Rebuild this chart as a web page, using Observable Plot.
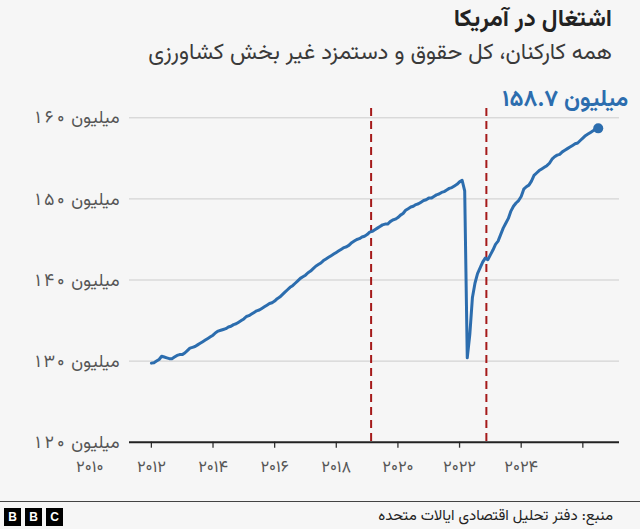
<!DOCTYPE html>
<html lang="fa">
<head>
<meta charset="utf-8">
<script src="https://cdn.jsdelivr.net/npm/d3@7"></script>
<script src="https://cdn.jsdelivr.net/npm/@observablehq/plot@0.6"></script>
<style>
  html, body { margin: 0; padding: 0; }
  body {
    width: 640px; height: 529px; position: relative; overflow: hidden;
    background: #f6f6f6;
    font-family: Vazirmatn, "Noto Sans Arabic", "DejaVu Sans", sans-serif;
  }
  .title { position: absolute; right: 28px; top: 4px; font-size: 24px; line-height: 32px; font-weight: bold; color: #222; direction: rtl; white-space: nowrap; }
  .subtitle { position: absolute; right: 28px; top: 41px; font-size: 22.5px; line-height: 26px; color: #3a3a3a; direction: rtl; white-space: nowrap; }
  #chart { position: absolute; left: 0; top: 80px; }
  .rule { position: absolute; left: 0; top: 501px; width: 640px; height: 0; border-top: 1.5px solid #444; }
  .source { position: absolute; right: 27px; top: 508px; font-size: 15px; line-height: 18px; color: #222; direction: rtl; white-space: nowrap; }
  .bbc { position: absolute; left: 4px; top: 508px; display: flex; gap: 4px; }
  .bbc span { width: 17px; height: 18px; background: #000; color: #fff; font: bold 12px "Liberation Sans", Arial, sans-serif; display: flex; align-items: center; justify-content: center; }
</style>
</head>
<body>
<div class="title">اشتغال در آمریکا</div>
<div class="subtitle">همه کارکنان، کل حقوق و دستمزد غیر بخش کشاورزی</div>
<div id="chart"></div>
<div class="rule"></div>
<div class="source">منبع: دفتر تحلیل اقتصادی ایالات متحده</div>
<div class="bbc"><span>B</span><span>B</span><span>C</span></div>
<script>
// Monthly total nonfarm employment, millions (Jan..Dec)
const jobs2010 = [129.75, 129.8, 130.0, 130.2, 130.6, 130.5, 130.4, 130.3, 130.3, 130.5, 130.7, 130.8];
const jobs2011 = [130.8, 131.0, 131.3, 131.6, 131.7, 131.8, 132.0, 132.2, 132.4, 132.6, 132.8, 133.0];
const jobs2012 = [133.2, 133.5, 133.7, 133.8, 133.9, 134.0, 134.2, 134.3, 134.5, 134.6, 134.8, 135.0];
const jobs2013 = [135.2, 135.5, 135.6, 135.8, 136.0, 136.2, 136.3, 136.5, 136.7, 136.9, 137.1, 137.2];
const jobs2014 = [137.4, 137.7, 137.9, 138.2, 138.5, 138.8, 139.1, 139.3, 139.6, 139.9, 140.2, 140.4];
const jobs2015 = [140.6, 140.9, 141.1, 141.4, 141.7, 141.9, 142.1, 142.4, 142.6, 142.8, 143.0, 143.2];
const jobs2016 = [143.4, 143.6, 143.8, 144.0, 144.1, 144.3, 144.6, 144.8, 145.0, 145.1, 145.3, 145.4];
const jobs2017 = [145.6, 145.9, 146.0, 146.2, 146.4, 146.6, 146.8, 146.9, 146.9, 147.2, 147.4, 147.5];
const jobs2018 = [147.7, 148.0, 148.2, 148.6, 148.8, 149.0, 149.1, 149.3, 149.4, 149.6, 149.8, 149.9];
const jobs2019 = [150.1, 150.1, 150.3, 150.5, 150.6, 150.8, 150.9, 151.1, 151.3, 151.4, 151.6, 151.8];
const jobs2020 = [152.1, 152.3, 151.0, 130.4, 133.3, 137.8, 139.6, 140.8, 141.5, 142.2, 142.7, 142.5];
const jobs2021 = [143.1, 143.7, 144.4, 144.8, 145.6, 146.4, 147.0, 147.6, 148.5, 149.1, 149.5, 149.8];
const jobs2022 = [150.3, 151.2, 151.5, 151.7, 152.2, 152.9, 153.2, 153.5, 153.7, 153.9, 154.1, 154.4];
const jobs2023 = [154.9, 155.2, 155.4, 155.5, 155.8, 156.0, 156.2, 156.4, 156.6, 156.8, 156.9, 157.2];
const jobs2024 = [157.5, 157.8, 158.0, 158.2, 158.4, 158.6, 158.7];
const dataYears = [2010, 2011, 2012, 2013, 2014, 2015, 2016, 2017, 2018, 2019, 2020, 2021, 2022, 2023, 2024];
const yearlySeries = [jobs2010, jobs2011, jobs2012, jobs2013, jobs2014, jobs2015, jobs2016, jobs2017, jobs2018, jobs2019, jobs2020, jobs2021, jobs2022, jobs2023, jobs2024];

// Vertical dashed markers (fractional years)
const eventYears = [2017.13, 2020.87];

// Axis ticks and labels as drawn in the original
const yTicks = [120, 130, 140, 150, 160];
const gridValues = [130, 140, 150, 160];
const xTickYears = [2010, 2012, 2014, 2016, 2018, 2020, 2022, 2024];
const xLabelYears = [2008, 2010, 2012, 2014, 2016, 2018, 2020, 2022];
const xLabels = ["۲۰۱۰", "۲۰۱۲", "۲۰۱۴", "۲۰۱۶", "۲۰۱۸", "۲۰۲۰", "۲۰۲۲", "۲۰۲۴"];

const fa = (s) => String(s).replace(/\d/g, (c) => "۰۱۲۳۴۵۶۷۸۹"[c]);
const unit = "میلیون";

const data = [];
yearlySeries.forEach((arr, k) => arr.forEach((v, m) => data.push({t: dataYears[k] + m / 12, v})));
const last = data[data.length - 1];

const blue = "#2c6dae";
const fontFamily = 'Vazirmatn, "Noto Sans Arabic", "DejaVu Sans", sans-serif';

const chart = Plot.plot({
  width: 640,
  height: 410,
  marginLeft: 129,
  marginRight: 21,
  marginTop: 28,
  marginBottom: 48.3,
  x: {domain: [2009.29, 2025.19]},
  y: {domain: [120, 161.15]},
  style: {background: "transparent", fontFamily, fontSize: "17px", overflow: "visible"},
  marks: [
    Plot.gridY(gridValues, {stroke: "#cccccc", strokeOpacity: 1, strokeWidth: 1}),
    Plot.axisY(yTicks, {tickSize: 0, tickPadding: 10, tickFormat: (d) => fa(d) + " " + unit, fill: "#555", fontSize: 17.5, label: null}),
    Plot.axisX(xTickYears, {tickSize: 6, tickFormat: () => "", stroke: "#333", strokeWidth: 1.3, label: null}),
    Plot.text(xLabelYears, {x: (d) => d, text: (d, i) => xLabels[i], frameAnchor: "bottom", dy: 30, fill: "#555", fontSize: 16.5}),
    Plot.ruleY([120], {stroke: "#222", strokeWidth: 2}),
    Plot.ruleX(eventYears, {stroke: "#a51a1a", strokeWidth: 2, strokeDasharray: "8,5"}),
    Plot.line(data, {x: "t", y: "v", stroke: blue, strokeWidth: 3, strokeLinejoin: "round"}),
    Plot.dot([last], {x: "t", y: "v", r: 5, fill: blue}),
    Plot.text([last], {x: "t", y: "v", text: (d) => fa(d.v) + " " + unit, dx: 30, dy: -30, textAnchor: "end", fill: blue, fontWeight: "bold", fontSize: 23})
  ]
});
document.getElementById("chart").append(chart);
</script>
</body>
</html>
